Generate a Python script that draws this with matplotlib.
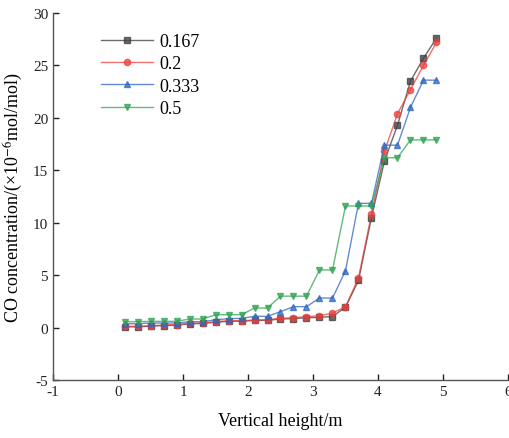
"""
CO concentration vs vertical height for four ratios.
"""
import matplotlib
matplotlib.use("Agg")
import matplotlib.pyplot as plt

heights = [0.1, 0.3, 0.5, 0.7, 0.9, 1.1, 1.3, 1.5, 1.7, 1.9, 2.1, 2.3, 2.5,
           2.7, 2.9, 3.1, 3.3, 3.5, 3.7, 3.9, 4.1, 4.3, 4.5, 4.7, 4.9]

co_0167 = [0.08, 0.08, 0.14, 0.2, 0.24, 0.36, 0.4, 0.52, 0.6, 0.62, 0.68, 0.7, 0.82,
           0.86, 0.94, 0.98, 1.06, 1.95, 4.5, 10.5, 15.9, 19.3, 23.5, 25.7, 27.6]
co_02 = [0.12, 0.12, 0.18, 0.25, 0.28, 0.41, 0.44, 0.56, 0.66, 0.66, 0.72, 0.75, 0.89,
         0.94, 1.04, 1.13, 1.39, 1.99, 4.73, 10.83, 16.8, 20.4, 22.7, 25.0, 27.2]
co_0333 = [0.37, 0.37, 0.44, 0.44, 0.44, 0.56, 0.56, 0.75, 0.85, 0.89, 1.08, 1.08, 1.52,
           2.0, 2.0, 2.82, 2.82, 5.42, 11.85, 11.85, 17.4, 17.4, 21.0, 23.6, 23.6]
co_05 = [0.56, 0.56, 0.6, 0.6, 0.6, 0.82, 0.82, 1.23, 1.23, 1.23, 1.87, 1.87, 3.0,
         3.0, 3.0, 5.5, 5.5, 11.6, 11.6, 11.6, 16.2, 16.2, 17.9, 17.9, 17.9]

labels = ["0.167", "0.2", "0.333", "0.5"]
series = [co_0167, co_02, co_0333, co_05]
colors = ["#3c3c3c", "#e8403c", "#2f67c0", "#2fa352"]
markers = ["s", "o", "^", "v"]

plt.rcParams["font.family"] = ["Liberation Serif", "DejaVu Serif"]
plt.rcParams["mathtext.fontset"] = "stix"
plt.rcParams["axes.unicode_minus"] = False

fig = plt.figure(figsize=(5.1, 4.39), dpi=100)
ax = fig.add_axes([0.104, 0.132, 0.892, 0.836])

for vals, lab, col, mk in zip(series, labels, colors, markers):
    ax.plot(heights, vals, color=col, alpha=0.75, lw=1.0, marker=mk, ms=4.5,
            markerfacecolor=col, markeredgecolor=col, label=lab)

ax.set_xlim(-1, 6)
ax.set_ylim(-5, 30)
ax.set_xticks(range(-1, 7))
ax.set_yticks(range(-5, 31, 5))
ax.tick_params(direction="in", length=4, width=1, labelsize=11, colors="#222222")
for side in ["top", "right"]:
    ax.spines[side].set_visible(False)
for side in ["left", "bottom"]:
    ax.spines[side].set_color("#555555")
    ax.spines[side].set_linewidth(1.0)

ax.set_xlabel("Vertical height/m", fontsize=13, labelpad=10)
ax.set_ylabel(r"CO concentration/(×10$^{-6}$mol/mol)", fontsize=13, labelpad=6)

ax.legend(loc="upper left", bbox_to_anchor=(0.07, 0.99), frameon=False, fontsize=13,
          handlelength=2.9, labelspacing=0.3, handletextpad=0.3)

plt.savefig("out.png", dpi=100)
